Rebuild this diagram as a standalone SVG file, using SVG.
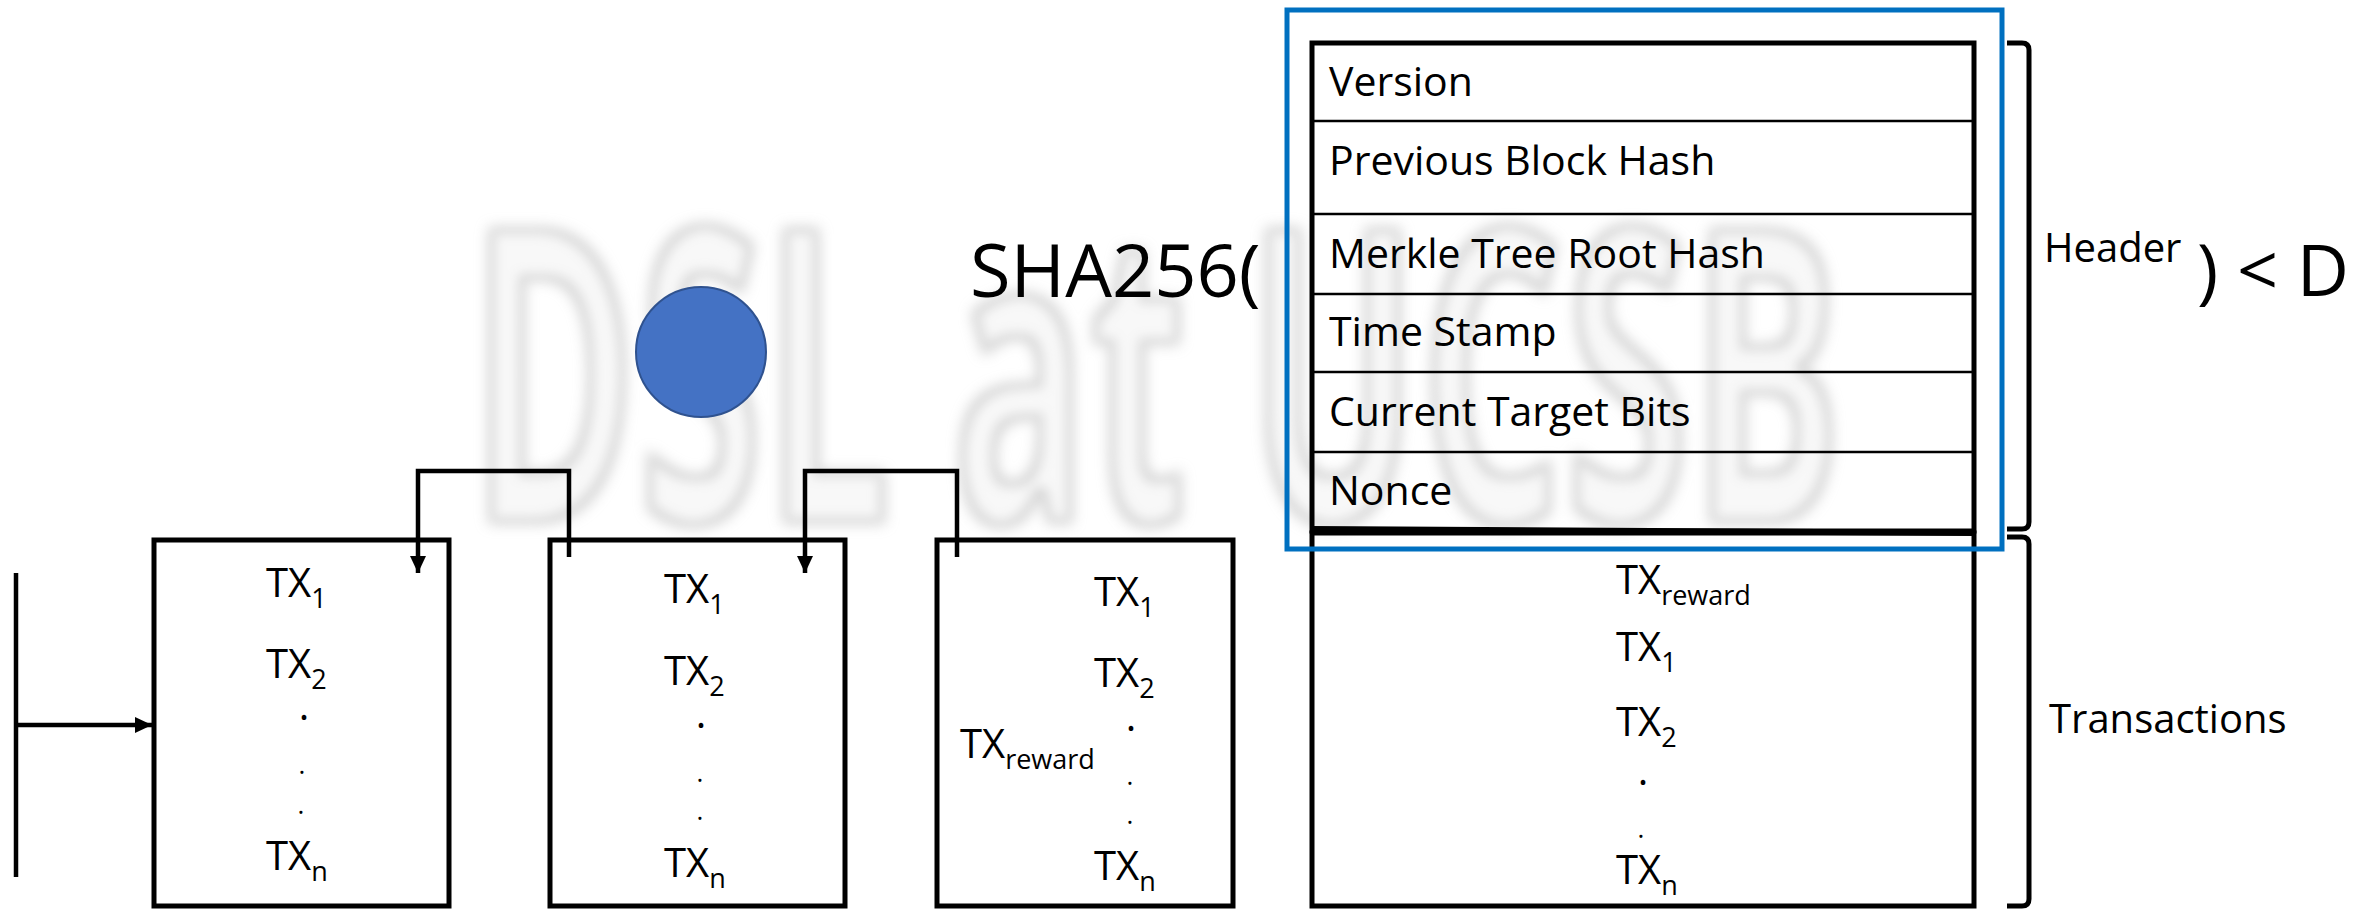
<svg xmlns="http://www.w3.org/2000/svg" width="2379" height="910" viewBox="0 0 2379 910">
<style>
  .t { font-family: "Open Sans", "Noto Sans", "DejaVu Sans", sans-serif; fill: #000; }
  .row { font-size: 41px; }
  .tx { font-size: 40px; }
  .sub { font-size: 27px; }
  .box { fill: none; stroke: #000; stroke-width: 5; }
  .sep { stroke: #000; stroke-width: 2.5; }
  .conn { fill: none; stroke: #000; stroke-width: 4.5; }
  .brace { fill: none; stroke: #000; stroke-width: 5; stroke-linejoin: round; }
  .wm { font-family: "Open Sans", "Noto Sans", sans-serif; font-size: 413px; font-weight: bold; }
</style>
<defs>
  <marker id="arrow" markerUnits="userSpaceOnUse" markerWidth="20" markerHeight="18" refX="17" refY="8" orient="auto">
    <path d="M0,0 L17,8 L0,16 Z" fill="#000"/>
  </marker>
  <filter id="emboss" filterUnits="userSpaceOnUse" x="420" y="150" width="1480" height="420">
    <feMorphology in="SourceAlpha" operator="dilate" radius="1" result="d"/>
    <feGaussianBlur in="d" stdDeviation="7" result="b"/>
    <feFlood flood-color="#d2d2d2"/>
    <feComposite in2="b" operator="in" result="shadow"/>
    <feMorphology in="SourceGraphic" operator="erode" radius="5" result="inner"/>
    <feGaussianBlur in="inner" stdDeviation="6" result="fill"/>
    <feMerge><feMergeNode in="shadow"/><feMergeNode in="fill"/></feMerge>
  </filter>
</defs>
<rect x="0" y="0" width="2379" height="910" fill="#fff"/>

<g id="watermark">
  <text class="wm" x="469" y="523" textLength="1374" lengthAdjust="spacingAndGlyphs" fill="#f8f8f8" filter="url(#emboss)">DSL at UCSB</text>
</g>

<g id="formula">
  <text class="t" x="970" y="297" font-size="74">SHA256(</text>
  <text class="t" x="2197" y="296" font-size="72">) &lt; D</text>
</g>

<g id="circle">
  <circle cx="701" cy="352" r="65" fill="#4472C4" stroke="#2F528F" stroke-width="2"/>
</g>

<g id="header-box">
  <rect class="box" x="1312" y="43" width="662" height="488"/>
  <line class="sep" x1="1312" y1="121" x2="1974" y2="121"/>
  <line class="sep" x1="1312" y1="214" x2="1974" y2="214"/>
  <line class="sep" x1="1312" y1="294" x2="1974" y2="294"/>
  <line class="sep" x1="1312" y1="372" x2="1974" y2="372"/>
  <line class="sep" x1="1312" y1="452" x2="1974" y2="452"/>
  <text class="t row" x="1329" y="96">Version</text>
  <text class="t row" x="1329" y="175">Previous Block Hash</text>
  <text class="t row" x="1329" y="268">Merkle Tree Root Hash</text>
  <text class="t row" x="1329" y="346">Time Stamp</text>
  <text class="t row" x="1329" y="426">Current Target Bits</text>
  <text class="t row" x="1329" y="505">Nonce</text>
</g>

<g id="tx-box">
  <rect class="box" x="1312" y="533" width="662" height="373"/>
  <path d="M1312,529 L1974,533" stroke="#000" stroke-width="6" fill="none"/>
  <text class="t tx" x="1616" y="594">TX<tspan class="sub" dy="11">reward</tspan></text>
  <text class="t tx" x="1616" y="661">TX<tspan class="sub" dy="11">1</tspan></text>
  <text class="t tx" x="1616" y="736">TX<tspan class="sub" dy="11">2</tspan></text>
  <text class="t" x="1643" y="785" font-size="40" text-anchor="middle">.</text>
  <text class="t" x="1641" y="838" font-size="26" text-anchor="middle">.</text>
  <text class="t tx" x="1616" y="884">TX<tspan class="sub" dy="11">n</tspan></text>
</g>

<g id="selection">
  <rect x="1287" y="10" width="715" height="539" fill="none" stroke="#0070C0" stroke-width="5"/>
</g>

<g id="labels">
  <path class="brace" d="M2007,43 H2022 Q2029,43 2029,50 V522 Q2029,529 2022,529 H2007"/>
  <path class="brace" d="M2007,537 H2022 Q2029,537 2029,544 V899 Q2029,906 2022,906 H2007"/>
  <text class="t" x="2044" y="262" font-size="40">Header</text>
  <text class="t" x="2049" y="733" font-size="40">Transactions</text>
</g>

<g id="block1">
  <rect class="box" x="154" y="540" width="295" height="366"/>
  <text class="t tx" x="266" y="597">TX<tspan class="sub" dy="11">1</tspan></text>
  <text class="t tx" x="266" y="678">TX<tspan class="sub" dy="11">2</tspan></text>
  <text class="t" x="304" y="720" font-size="40" text-anchor="middle">.</text>
  <text class="t" x="302" y="774" font-size="26" text-anchor="middle">.</text>
  <text class="t" x="301" y="814" font-size="26" text-anchor="middle">.</text>
  <text class="t tx" x="266" y="870">TX<tspan class="sub" dy="11">n</tspan></text>
</g>

<g id="block2">
  <rect class="box" x="550" y="540" width="295" height="366"/>
  <text class="t tx" x="664" y="603">TX<tspan class="sub" dy="11">1</tspan></text>
  <text class="t tx" x="664" y="685">TX<tspan class="sub" dy="11">2</tspan></text>
  <text class="t" x="701" y="728" font-size="40" text-anchor="middle">.</text>
  <text class="t" x="700" y="782" font-size="26" text-anchor="middle">.</text>
  <text class="t" x="700" y="820" font-size="26" text-anchor="middle">.</text>
  <text class="t tx" x="664" y="877">TX<tspan class="sub" dy="11">n</tspan></text>
</g>

<g id="block3">
  <rect class="box" x="937" y="540" width="296" height="366"/>
  <text class="t tx" x="1094" y="606">TX<tspan class="sub" dy="11">1</tspan></text>
  <text class="t tx" x="1094" y="687">TX<tspan class="sub" dy="11">2</tspan></text>
  <text class="t" x="1131" y="731" font-size="40" text-anchor="middle">.</text>
  <text class="t tx" x="960" y="758">TX<tspan class="sub" dy="11">reward</tspan></text>
  <text class="t" x="1130" y="785" font-size="26" text-anchor="middle">.</text>
  <text class="t" x="1130" y="824" font-size="26" text-anchor="middle">.</text>
  <text class="t tx" x="1094" y="880">TX<tspan class="sub" dy="11">n</tspan></text>
</g>

<g id="connectors">
  <line class="conn" x1="16" y1="573" x2="16" y2="877"/>
  <line class="conn" x1="16" y1="725" x2="152" y2="725" marker-end="url(#arrow)"/>
  <path class="conn" d="M569,557 V471 H418 V573" marker-end="url(#arrow)"/>
  <path class="conn" d="M957,557 V471 H805 V573" marker-end="url(#arrow)"/>
</g>
</svg>
